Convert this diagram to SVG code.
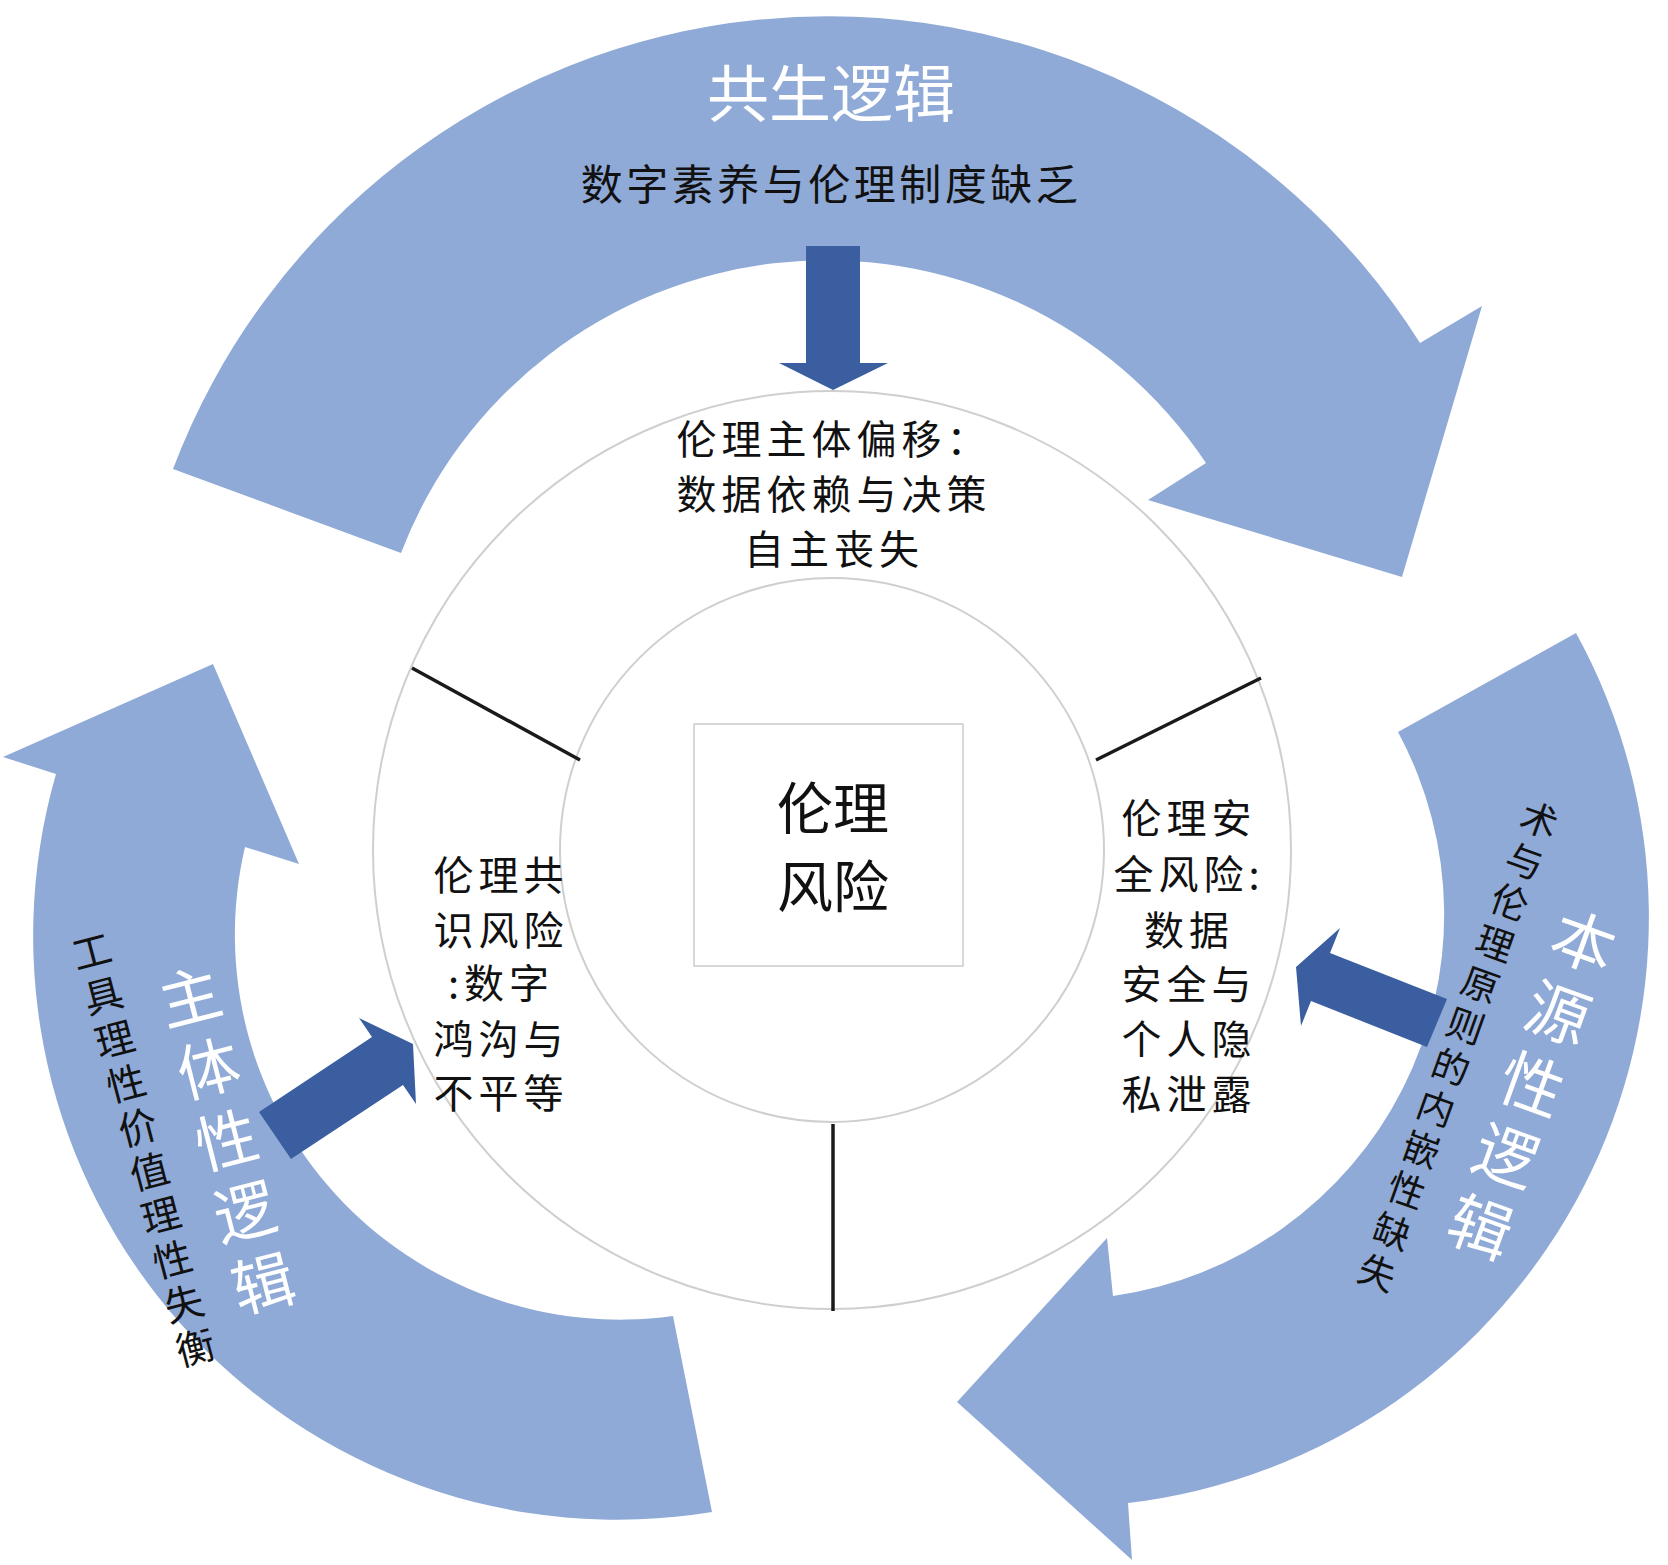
<svg xmlns="http://www.w3.org/2000/svg" width="1668" height="1565" viewBox="0 0 1668 1565">
<style>
.arc{fill:#8FAAD6;}
.dark{fill:#3B5EA0;}
.ring{fill:none;stroke:#CFCFCF;stroke-width:2;}
.div{stroke:#1a1a1a;stroke-width:3.5;}
.box{fill:none;stroke:#CCCCCC;stroke-width:1.5;}
.t{font-family:"Noto Sans CJK SC","Noto Sans CJK JP",sans-serif;fill:#111;text-anchor:middle;dominant-baseline:central;}
.w{fill:#ffffff;}
</style>
<rect width="1668" height="1565" fill="#ffffff"/>

<g id="arc-top">
<path class="arc" d="M401,553 L173,469 A700,700 0 0 1 1420,343 L1482,306 L1402,577 L1148,500 L1206,463 A456,456 0 0 0 401,553 Z"/>
<text class="t w" x="831" y="90" font-size="62">共生逻辑</text>
<text class="t" x="831" y="181" font-size="42" letter-spacing="3.5">数字素养与伦理制度缺乏</text>
</g>

<g id="arc-left">
<path class="arc" d="M673,1316 L712,1512 A584,584 0 0 1 56,774 L3,757 L213,664 L299,864 L245,847 A385,385 0 0 0 673,1316 Z"/>
<g transform="translate(189,993) rotate(-14.3)">
<text class="t w" font-size="62" x="0 0 0 0 0" y="0 74 148 222 296">主体性逻辑</text>
</g>
<g transform="translate(91,949) rotate(-14.7)">
<text class="t" font-size="39" x="0 0 0 0 0 0 0 0 0 0" y="0 45.5 91 136.5 182 227.5 273 318.5 364 409.5">工具理性价值理性失衡</text>
</g>
</g>

<g id="arc-right">
<path class="arc" d="M1398,732 L1576,633 A590,590 0 0 1 1128,1503 L1132,1560 L957,1402 L1107,1238 L1113,1296 A385,385 0 0 0 1398,732 Z"/>
<g transform="translate(1585,938) rotate(19.9)">
<text class="t w" font-size="63" x="0 0 0 0 0" y="0 75.8 151.6 227.4 303.2">本源性逻辑</text>
</g>
<g transform="translate(1540,818) rotate(19.7)">
<text class="t" font-size="37" x="0 0 0 0 0 0 0 0 0 0 0 0" y="0 43.7 87.4 131.1 174.8 218.5 262.2 305.9 349.6 393.3 437 480.7">术与伦理原则的内嵌性缺失</text>
</g>
</g>

<g id="connectors">
<polygon class="dark" points="806,246 860,246 860,363 888,363 833,390 779,363 806,363"/>
<polygon class="dark" points="259,1112 372,1037 359,1018 413,1044 416,1104 403,1085 291,1159"/>
<polygon class="dark" points="1447,999 1330,953 1340,928 1296,967 1301,1026 1311,1001 1427,1047"/>
</g>

<g id="ring">
<circle class="ring" cx="832" cy="850" r="459"/>
<circle class="ring" cx="832" cy="850" r="272"/>
<line class="div" x1="412" y1="668" x2="580" y2="760"/>
<line class="div" x1="1261" y1="678" x2="1096" y2="760"/>
<line class="div" x1="833" y1="1124" x2="833" y2="1311"/>
</g>

<g id="seg-top">
<text class="t" font-size="40" letter-spacing="5"><tspan x="834" y="437">伦理主体偏移：</tspan><tspan x="834" y="492">数据依赖与决策</tspan><tspan x="834" y="547">自主丧失</tspan></text>
</g>

<g id="seg-left">
<text class="t" font-size="40" letter-spacing="5"><tspan x="501" y="873">伦理共</tspan><tspan x="501" y="928">识风险</tspan><tspan x="501" y="981">:数字</tspan><tspan x="501" y="1037">鸿沟与</tspan><tspan x="501" y="1091">不平等</tspan></text>
</g>

<g id="seg-right">
<text class="t" font-size="40" letter-spacing="5"><tspan x="1189" y="816">伦理安</tspan><tspan x="1189" y="872">全风险:</tspan><tspan x="1189" y="928">数据</tspan><tspan x="1189" y="982">安全与</tspan><tspan x="1189" y="1037">个人隐</tspan><tspan x="1189" y="1092">私泄露</tspan></text>
</g>

<g id="center">
<rect class="box" x="694" y="724" width="269" height="242"/>
<text class="t" font-size="56"><tspan x="833" y="804">伦理</tspan><tspan x="833" y="882">风险</tspan></text>
</g>
</svg>
